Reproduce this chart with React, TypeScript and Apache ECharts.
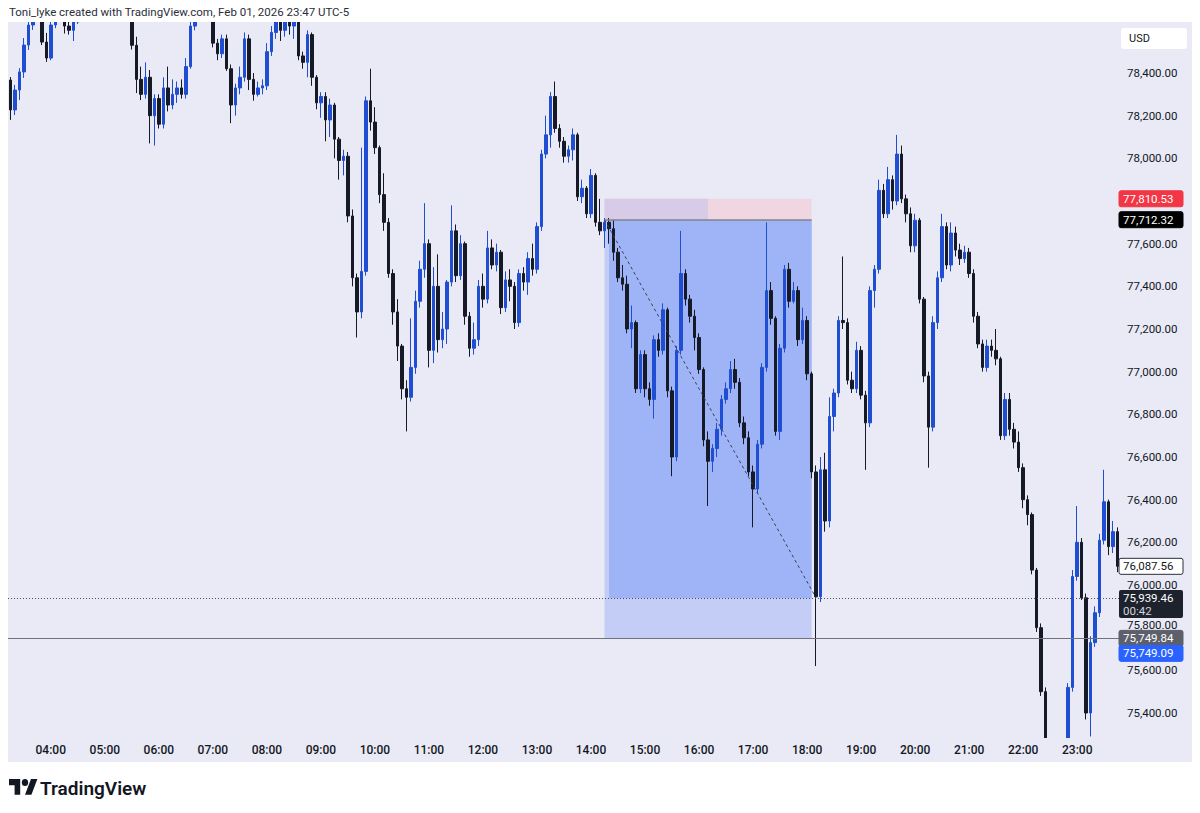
import React, { useEffect, useRef } from "react";
import * as echarts from "echarts";

// [open, close, low, high] — 5-minute bars from 03:15
const barsA: number[][] = [
  [78367,78227,78180,78381],[78227,78320,78203,78344],[78320,78405,78273,78423],[78405,78531,78377,78564],
  [78531,78625,78508,78660],[78625,78695,78602,78740],[78695,78660,78655,78740],[78660,78545,78531,78680],
  [78545,78470,78452,78588],[78470,78625,78460,78660],[78625,78690,78610,78720],[78690,78680,78660,78730],
  [78680,78620,78585,78700],[78620,78600,78580,78650],[78600,78640,78550,78660],[78640,78700,78630,78740],
  [78700,78740,78680,78770],[78740,78720,78700,78780],[78720,78760,78700,78790],[78760,78730,78710,78790],
  [78730,78770,78710,78800],[78770,78750,78720,78800],[78750,78720,78700,78780],[78720,78740,78690,78770],
  [78740,78710,78680,78760],[78710,78700,78670,78750],[78700,78680,78655,78730],[78680,78530,78510,78700],
  [78530,78370,78306,78570],[78370,78300,78273,78430],[78300,78380,78280,78450],[78380,78200,78070,78414],
  [78200,78280,78060,78300],[78280,78160,78140,78300],[78160,78330,78140,78380],[78330,78250,78220,78430],
  [78250,78300,78230,78370],[78300,78330,78260,78360],[78330,78300,78280,78370],[78300,78430,78280,78470],
  [78430,78620,78420,78650],[78620,78700,78600,78740],[78700,78740,78680,78770],[78740,78720,78690,78780],
  [78720,78680,78655,78750],[78680,78540,78520,78690],[78540,78490,78460,78560],[78490,78560,78470,78580],
  [78560,78420,78410,78580],[78420,78250,78165,78440],[78250,78330,78200,78350],[78330,78380,78300,78430],
  [78380,78560,78360,78590],[78560,78370,78320,78580],[78370,78300,78270,78400],[78300,78330,78290,78360],
  [78330,78340,78300,78370],
];
const barsB: number[][] = [
  [78340,78500,78320,78540],[78500,78590,78480,78620],[78590,78640,78560,78680],[78640,78600,78550,78670],
  [78600,78640,78570,78680],[78640,78620,78580,78670],[78620,78640,78560,78680],[78640,78480,78460,78660],
  [78480,78450,78420,78500],[78450,78580,78380,78600],[78580,78380,78340,78590],[78380,78260,78230,78390],
  [78260,78290,78190,78310],[78290,78180,78080,78310],[78180,78250,78100,78280],[78250,78090,78000,78260],
  [78090,77990,77900,78100],[77990,78010,77920,78040],[78010,77730,77700,78030],[77730,77440,77400,77760],
  [77440,77280,77160,77460],[77280,77470,77250,78050],[77470,78270,77450,78290],[78270,78170,78130,78420],
  [78170,78050,78020,78240],[78050,77830,77790,78060],[77830,77700,77660,77930],[77700,77460,77440,77720],
  [77460,77280,77220,77480],[77280,77120,77050,77340],[77120,76920,76870,77130],[76920,76880,76720,76960],
  [76880,77020,76860,77250],[77020,77330,76990,77380],[77330,77480,77300,77520],[77480,77600,77440,77790],
  [77600,77100,77020,77620],[77100,77400,77040,77490],[77400,77150,77090,77550],[77150,77200,77110,77280],
  [77200,77420,77130,77430],[77420,77660,77400,77780],[77660,77450,77420,77690],[77450,77600,77430,77640],
  [77600,77260,77220,77610],[77260,77110,77070,77280],[77110,77150,77080,77230],[77150,77400,77120,77430],
  [77400,77340,77300,77460],[77340,77580,77320,77660],[77580,77500,77480,77620],[77500,77560,77470,77600],
  [77560,77300,77270,77570],[77300,77430,77280,77470],[77430,77400,77330,77480],[77400,77230,77200,77420],
  [77230,77460,77210,77480],[77460,77420,77380,77490],[77420,77530,77360,77560],[77530,77480,77450,77600],
];
const barsC: number[][] = [
  [77480,77680,77460,77700],[77680,78020,77660,78040],[78020,78110,78000,78200],[78110,78290,78050,78310],
  [78290,78140,78120,78360],[78140,78080,78050,78160],[78080,78010,77980,78100],[78010,78040,77980,78060],
  [78040,78110,77990,78140],[78110,77820,77800,78120],[77820,77860,77790,77900],[77860,77740,77720,77870],
  [77740,77920,77720,77950],[77920,77700,77680,77930],[77700,77660,77640,77810],[77660,77700,77580,77720],
  [77700,77670,77600,77720],[77670,77560,77520,77712],[77560,77440,77420,77580],[77440,77410,77380,77500],
  [77410,77200,77180,77450],[77200,77230,77110,77310],[77230,76920,76900,77240],[76920,77080,76900,77100],
  [77080,76920,76880,77100],[76920,76870,76840,76950],[76870,77150,76780,77170],[77150,77100,77070,77180],
  [77100,77290,77080,77320],[77290,76910,76880,77300],[76910,76600,76510,76930],[76600,77100,76580,77120],
  [77100,77460,77080,77660],[77460,77340,77310,77480],[77340,77260,77230,77360],[77260,77160,77100,77290],
  [77160,77010,76990,77180],[77010,76680,76650,77020],[76680,76580,76370,76720],[76580,76640,76530,76660],
  [76640,76730,76600,76760],[76730,76870,76700,76890],[76870,76920,76850,76950],[76920,77010,76900,77050],
  [77010,76950,76920,77060],[76950,76760,76740,76970],[76760,76690,76660,76790],[76690,76530,76510,76720],
  [76530,76450,76270,76560],[76450,76660,76430,76680],[76660,77020,76640,77040],[77020,77380,77000,77700],
  [77380,77250,77220,77420],[77250,76720,76700,77260],[76720,77110,76680,77130],[77110,77480,77090,77500],
  [77480,77330,77300,77510],[77330,77380,77320,77420],[77380,77150,77120,77400],[77150,77240,77130,77300],
];
const barsD: number[][] = [
  [77240,76990,76960,77260],[76990,76530,76500,77000],[76530,75945,75620,76560],[75945,76540,75920,76600],
  [76540,76300,76250,76620],[76300,76790,76270,76880],[76790,76900,76720,76920],[76900,77240,76880,77260],
  [77240,77230,77200,77540],[77230,76960,76940,77250],[76960,76920,76900,77000],[76920,77100,76900,77140],
  [77100,76890,76870,77120],[76890,76760,76540,76910],[76760,77380,76740,77400],[77380,77480,77300,77500],
  [77480,77850,77460,77900],[77850,77740,77720,77880],[77740,77900,77720,77960],[77900,77800,77760,77920],
  [77800,78020,77780,78110],[78020,77810,77790,78060],[77810,77740,77700,77830],[77740,77590,77560,77770],
  [77590,77710,77560,77740],[77710,77340,77320,77720],[77340,76980,76950,77350],[76980,76740,76550,77000],
  [76740,77230,76720,77260],[77230,77440,77200,77470],[77440,77680,77420,77740],[77680,77500,77480,77700],
  [77500,77650,77470,77700],[77650,77570,77540,77680],[77570,77530,77500,77600],[77530,77560,77510,77590],
  [77560,77460,77440,77580],[77460,77260,77230,77480],[77260,77130,77110,77280],[77130,77020,77000,77150],
  [77020,77120,77000,77150],[77120,77100,77070,77150],[77100,77060,77030,77200],[77060,76700,76680,77070],
  [76700,76870,76680,76900],[76870,76730,76700,76900],[76730,76670,76640,76760],[76670,76550,76530,76720],
  [76550,76400,76360,76570],[76400,76330,76280,76420],[76330,76070,76050,76340],[76070,75800,75780,76080],
  [75800,75500,75480,75820],[75500,75270,75240,75520],[75270,75180,75120,75275],[75180,75100,75050,75220],
  [75100,75160,75020,75200],[75160,75240,75120,75270],[75240,75520,75200,75540],[75520,76040,75500,76070],
  [76040,76200,76020,76370],[76200,75940,75930,76220],[75940,75400,75370,75960],[75400,75730,75290,75760],
  [75730,75870,75710,75900],[75870,76210,75850,76240],[76210,76390,76190,76540],[76390,76180,76140,76400],
  [76180,76250,76150,76300],[76250,76087.56,76060,76270],
];

const candles = [...barsA, ...barsB, ...barsC, ...barsD];
const startHour = 3;
const startMinute = 15;
const barMinutes = 5;
const times = candles.map((_, i) => {
  const m = startHour * 60 + startMinute + i * barMinutes;
  const hh = String(Math.floor(m / 60) % 24).padStart(2, "0");
  const mm = String(m % 60).padStart(2, "0");
  return `${hh}:${mm}`;
});

// Position tool (short) and price levels
const stopPrice = 77810.53;
const entryPrice = 77712.32;
const lastPrice = 75939.46;
const targetPrice = 75749.84;
const askPrice = 75749.09;
const closePrice = 76087.56;
const countdown = "00:42";
const entryTime = "14:15";
const fillStartTime = "14:20";
const stopShadeEnd = "16:10";
const exitTime = "18:05";
const touchTime = "18:10";

const axisMin = 75200;
const axisMax = 78800;
const axisStep = 200;
const visibleLow = 75300;
const visibleHigh = 78500;
const hiddenLabels = [77800];
const squeezedLabels = [75800]; // tick labels partly covered by price tags, lifted a little

const headerText = "Toni_lyke created with TradingView.com, Feb 01, 2026 23:47 UTC-5";
const currency = "USD";
const brand = "TradingView";

const FONT = "Roboto, 'Noto Sans', 'DejaVu Sans', sans-serif";
const BG = "#e9eaf6";
const INK = "#131722";
const UP = "#1f4ed3";
const DOWN = "#161a26";

// the chart canvas is shifted up so the price scale can extend above the visible plot
const SHIFT = 40;

const fmt = (v: number) =>
  v.toLocaleString("en-US", { minimumFractionDigits: 2, maximumFractionDigits: 2 });

export default function App() {
  const ref = useRef<HTMLDivElement>(null);

  useEffect(() => {
    const el = ref.current;
    if (!el) return;
    echarts.graphic.registerShape(
      "tvlogo",
      echarts.graphic.extendPath(
        "M14 22H7V11H0V4h14v18zM28 22h-8l7.5-18h8L28 22zM16 8a4 4 0 1 0 8 0a4 4 0 1 0 -8 0z",
        {}
      )
    );
    const chart = echarts.init(el, null, { renderer: "svg" });

    const option: any = {
      animation: false,
      backgroundColor: "#ffffff",
      textStyle: { fontFamily: FONT },
      grid: { left: 8, right: 80, top: SHIFT - 12.33, height: 768, containLabel: false },
      xAxis: {
        type: "category",
        data: times,
        boundaryGap: true,
        offset: -17.67,
        z: 60,
        axisLine: { show: false },
        axisTick: { show: false },
        splitLine: { show: false },
        axisLabel: {
          interval: (_i: number, v: string) => v.endsWith(":00"),
          color: INK,
          fontSize: 12,
          fontWeight: 500,
          margin: 6,
          fontFamily: FONT,
        },
      },
      yAxis: {
        type: "value",
        position: "right",
        min: axisMin,
        max: axisMax,
        interval: axisStep,
        z: 60,
        axisLine: { show: false },
        axisTick: { show: false },
        splitLine: { show: false },
        axisLabel: {
          margin: 7,
          color: INK,
          fontSize: 11.5,
          fontFamily: FONT,
          formatter: (v: number) =>
            v < visibleLow ||
            v > visibleHigh ||
            hiddenLabels.includes(v) ||
            squeezedLabels.includes(v)
              ? ""
              : fmt(v),
        },
      },
      series: [
        {
          type: "line",
          data: [],
          z: 1,
          silent: true,
          markArea: {
            silent: true,
            data: [
              [
                { coord: [entryTime, entryPrice], itemStyle: { color: "#c3cdf5" } },
                { coord: [exitTime, targetPrice] },
              ],
              [
                { coord: [fillStartTime, entryPrice], itemStyle: { color: "#9fb4f6" } },
                { coord: [exitTime, lastPrice] },
              ],
              [
                { coord: [entryTime, entryPrice], itemStyle: { color: "#efd6e1" } },
                { coord: [exitTime, stopPrice] },
              ],
              [
                { coord: [entryTime, entryPrice], itemStyle: { color: "#d8cbe8" } },
                { coord: [stopShadeEnd, stopPrice] },
              ],
            ],
          },
        },
        {
          type: "candlestick",
          data: candles,
          z: 2,
          barWidth: 3,
          clip: true,
          itemStyle: {
            color: UP,
            color0: DOWN,
            borderColor: UP,
            borderColor0: DOWN,
            borderWidth: 1,
          },
        },
        {
          type: "line",
          data: [],
          z: 5,
          silent: true,
          markLine: {
            silent: true,
            symbol: ["none", "none"],
            label: { show: false },
            data: [
              { yAxis: lastPrice, lineStyle: { color: "#4b4f5c", width: 1, type: [1, 2] } },
              { yAxis: targetPrice, lineStyle: { color: "#70737e", width: 1, type: "solid" } },
              [
                { coord: [entryTime, entryPrice], lineStyle: { color: "#80838e", width: 1.5, type: "solid" } },
                { coord: [exitTime, entryPrice] },
              ],
              [
                { coord: [entryTime, entryPrice], lineStyle: { color: "#3d4150", width: 1, type: [3, 3] } },
                { coord: [touchTime, lastPrice] },
              ],
            ],
          },
        },
      ],
    };

    chart.setOption(option);

    const yp = (p: number) => chart.convertToPixel({ yAxisIndex: 0 }, p) as number;
    const tagX = 1119;
    const tagW = 64;
    const textX = 1123;
    const tag = (yc: number, text: string, bg: string, fg: string, stroke?: string): any[] => [
      {
        type: "rect",
        z: 70,
        shape: { x: tagX, y: yc - 8, width: tagW, height: 16, r: 2 },
        style: { fill: bg, stroke: stroke || bg, lineWidth: 1 },
      },
      {
        type: "text",
        z: 71,
        x: textX,
        y: yc,
        style: {
          text,
          fill: fg,
          fontSize: 11.5,
          lineHeight: 13,
          fontFamily: FONT,
          verticalAlign: "middle",
          align: "left",
        },
      },
    ];

    const yLast = yp(lastPrice);
    const yTarget = yp(targetPrice);
    const S = SHIFT;

    const squeezed = squeezedLabels.map((v) => ({
      type: "text",
      z: 65,
      x: 1127,
      y: yp(v) - 3,
      style: {
        text: fmt(v),
        fill: INK,
        fontSize: 11.5,
        lineHeight: 12,
        fontFamily: FONT,
        verticalAlign: "middle",
        align: "left",
      },
    }));

    const graphic: any[] = [
      { type: "rect", z: -10, shape: { x: 8, y: S + 22, width: 1184, height: 740 }, style: { fill: BG } },
      { type: "rect", z: 50, shape: { x: 0, y: 0, width: 1200, height: S + 22 }, style: { fill: "#ffffff" } },
      { type: "rect", z: 50, shape: { x: 8, y: S + 738, width: 1184, height: 24 }, style: { fill: BG } },
      { type: "rect", z: 50, shape: { x: 0, y: S + 762, width: 1200, height: 51 }, style: { fill: "#ffffff" } },
      {
        type: "text",
        z: 70,
        x: 9,
        y: S + 12,
        style: { text: headerText, fill: "#2a2e39", fontSize: 11.5, fontFamily: FONT, verticalAlign: "middle" },
      },
      {
        type: "rect",
        z: 70,
        shape: { x: 1121, y: S + 28, width: 66, height: 21, r: 3 },
        style: { fill: "#ffffff" },
      },
      {
        type: "text",
        z: 71,
        x: 1129,
        y: S + 38.5,
        style: { text: currency, fill: INK, fontSize: 11, fontFamily: FONT, verticalAlign: "middle" },
      },
      ...squeezed,
      ...tag(yp(stopPrice), fmt(stopPrice), "#f23645", "#ffffff"),
      ...tag(yp(entryPrice), fmt(entryPrice), "#000000", "#ffffff"),
      ...tag(yp(closePrice), fmt(closePrice), "#ffffff", INK, "#2a2e39"),
      {
        type: "rect",
        z: 70,
        shape: { x: tagX, y: yLast - 8, width: tagW, height: 28, r: 2 },
        style: { fill: "#1e222d" },
      },
      {
        type: "text",
        z: 71,
        x: textX,
        y: yLast,
        style: {
          text: fmt(lastPrice),
          fill: "#ffffff",
          fontSize: 11.5,
          lineHeight: 12,
          fontFamily: FONT,
          verticalAlign: "middle",
        },
      },
      {
        type: "text",
        z: 71,
        x: textX,
        y: yLast + 13,
        style: {
          text: countdown,
          fill: "#d1d4dc",
          fontSize: 11.5,
          lineHeight: 12,
          fontFamily: FONT,
          verticalAlign: "middle",
        },
      },
      ...tag(yTarget, fmt(targetPrice), "#5d606b", "#ffffff"),
      ...tag(yTarget + 15, fmt(askPrice), "#2962ff", "#ffffff"),
      {
        type: "tvlogo",
        z: 70,
        x: 9,
        y: S + 775.5,
        scaleX: 0.8,
        scaleY: 0.88,
        style: { fill: INK },
      },
      {
        type: "text",
        z: 70,
        x: 40,
        y: S + 788,
        style: { text: brand, fill: INK, fontSize: 19, fontWeight: 600, fontFamily: FONT, verticalAlign: "middle" },
      },
    ];

    chart.setOption({ graphic });

    return () => {
      chart.dispose();
    };
  }, []);

  return (
    <div
      ref={ref}
      style={{
        position: "absolute",
        left: 0,
        top: -SHIFT,
        width: 1200,
        height: 813 + SHIFT,
        background: "#ffffff",
      }}
    />
  );
}
